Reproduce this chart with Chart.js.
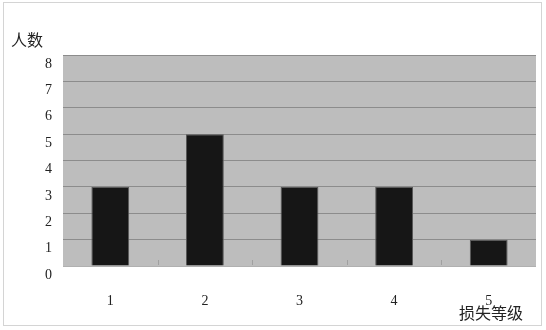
<!DOCTYPE html>
<html>
<head>
<meta charset="utf-8">
<script src="https://cdn.jsdelivr.net/npm/chart.js@4/dist/chart.umd.min.js"></script>
<style>
  html, body { margin: 0; padding: 0; background: #fff; }
  #wrap { width: 546px; height: 330px; }
</style>
</head>
<body>
<div id="wrap"><canvas id="myChart" width="546" height="330"></canvas></div>
<script>
var categories = ['1', '2', '3', '4', '5'];
var counts = [3, 5, 3, 3, 1];
var yTicks = [0, 1, 2, 3, 4, 5, 6, 7, 8];
var yTitle = '人数';
var xTitle = '损失等级';

var numFont = { family: '"Liberation Serif", "DejaVu Serif", serif', size: 14 };

// frame, gray plot area, little boundary ticks and the two axis titles
var decor = {
  id: 'decor',
  beforeDraw: function(chart) {
    var c = chart.ctx, a = chart.chartArea;
    c.save();
    c.fillStyle = '#fff';
    c.fillRect(0, 0, chart.width, chart.height);
    c.strokeStyle = '#d4d4d4';
    c.lineWidth = 1;
    c.strokeRect(3.5, 2.5, 538, 323);
    c.fillStyle = '#bdbdbd';
    c.fillRect(a.left, a.top, a.right - a.left, a.bottom - a.top);
    c.restore();
  },
  afterDatasetsDraw: function(chart) {
    var c = chart.ctx, a = chart.chartArea, x = chart.scales.x;
    c.save();
    c.strokeStyle = '#a0a0a0';
    c.lineWidth = 1;
    for (var i = 1; i < categories.length; i++) {
      var px = Math.round(x.getPixelForValue(i - 0.5)) + 0.5;
      c.beginPath();
      c.moveTo(px, a.bottom - 1);
      c.lineTo(px, a.bottom - 6);
      c.stroke();
    }
    c.fillStyle = '#222';
    c.font = '16px "Noto Sans CJK SC"';
    c.textBaseline = 'middle';
    c.textAlign = 'left';
    c.fillText(yTitle, 11, 40);
    c.textAlign = 'right';
    c.fillText(xTitle, 523, 313);
    c.restore();
  }
};

ctx = document.getElementById('myChart').getContext('2d');
myChart = new Chart(ctx, {
  type: 'bar',
  data: {
    labels: categories,
    datasets: [{
      data: counts,
      backgroundColor: '#161616',
      borderColor: '#5a5a5a',
      borderWidth: 1,
      barPercentage: 0.4,
      categoryPercentage: 1
    }]
  },
  options: {
    responsive: false,
    animation: false,
    events: [],
    layout: { padding: { left: 0, top: 55, right: 10, bottom: 0 } },
    plugins: { legend: { display: false }, tooltip: { enabled: false } },
    scales: {
      x: {
        grid: { display: false },
        border: { display: false },
        ticks: { color: '#222', font: numFont, padding: 19 },
        afterFit: function(s) { s.height = 64; }
      },
      y: {
        min: 0,
        max: 8,
        afterBuildTicks: function(s) {
          s.ticks = yTicks.map(function(v) { return { value: v }; });
        },
        grid: {
          color: function(c) { return c.tick && c.tick.value === 0 ? '#b0b0b0' : '#8c8c8c'; },
          lineWidth: 1,
          drawTicks: false
        },
        border: { display: false },
        ticks: { color: '#222', font: numFont, padding: 11, labelOffset: 9 },
        afterFit: function(s) { s.width = 63; }
      }
    }
  },
  plugins: [decor]
});
</script>
</body>
</html>
